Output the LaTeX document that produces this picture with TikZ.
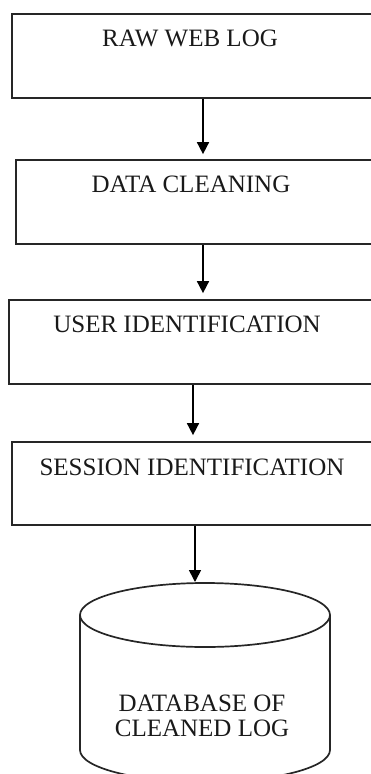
\documentclass[tikz,border=0pt]{standalone}
\usepackage{fontspec}
\setmainfont{Liberation Serif}
\usetikzlibrary{arrows.meta}
\begin{document}
\begin{tikzpicture}[x=1pt,y=-1pt,
  box/.style={draw=black!85,line width=1.7pt,rectangle,inner sep=0pt},
  lbl/.style={font=\fontsize{25}{27}\selectfont,inner sep=0pt,align=center,text=black!90},
  arr/.style={draw=black,line width=1.6pt,-{Triangle[length=12pt,width=12pt]}},
  shape line/.style={draw=black!85,line width=1.7pt}]
\useasboundingbox (0,0) rectangle (371,774);
\clip (0,0) rectangle (371,774);
% boxes
\node[box,minimum width=374pt,minimum height=84pt] (b1) at (199,56) {};
\node[box,minimum width=370pt,minimum height=84pt] (b2) at (201,202) {};
\node[box,minimum width=376pt,minimum height=84pt] (b3) at (197,342) {};
\node[box,minimum width=372pt,minimum height=83pt] (b4) at (198,483.5) {};
% labels
\node[lbl] (t1) at (190,38) {RAW WEB LOG};
\node[lbl] (t2) at (191,184) {DATA CLEANING};
\node[lbl] (t3) at (187,324) {USER IDENTIFICATION};
\node[lbl] (t4) at (192,467) {SESSION IDENTIFICATION};
% database cylinder
\coordinate (dbtop) at (195,583);
\draw[shape line] (80,615) -- (80,750) arc[start angle=180,end angle=0,x radius=125,y radius=32] -- (330,615);
\draw[shape line] (205,615) ellipse[x radius=125,y radius=32];
\node[lbl,font=\fontsize{25}{25}\selectfont] (t5) at (202,716) {DATABASE OF\\CLEANED LOG};
% connectors
\coordinate (a1) at (203,0);
\coordinate (a3) at (193,0);
\coordinate (a4) at (195,0);
\draw[arr,shorten >=5pt] (b1.south -| a1) -- (b2.north -| a1);
\draw[arr,shorten >=6pt] (b2.south -| a1) -- (b3.north -| a1);
\draw[arr,shorten >=6pt] (b3.south -| a3) -- (b4.north -| a3);
\draw[arr,shorten >=1pt] (b4.south -| a4) -- (dbtop);
\end{tikzpicture}
\end{document}
